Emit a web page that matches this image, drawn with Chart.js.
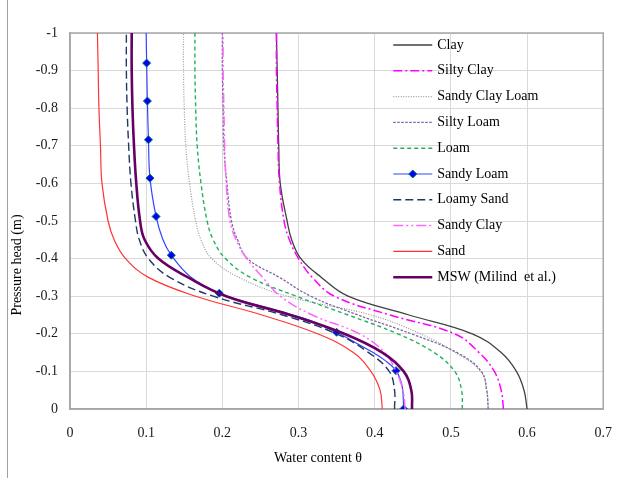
<!DOCTYPE html>
<html>
<head>
<meta charset="utf-8">
<script src="https://cdn.jsdelivr.net/npm/chart.js@4.4.0/dist/chart.umd.min.js"></script>
<style>
  body { margin: 0; background: #fff; }
  canvas { display: block; }
</style>
</head>
<body>
<canvas id="swcc" width="628" height="478"></canvas>
<script>
// pressure head (m) at which curves were read
const heads = [0, -0.05, -0.1, -0.15, -0.2, -0.25, -0.3, -0.35, -0.4, -0.45, -0.5, -0.6, -0.7, -0.8, -0.9, -1];

// water content for each soil, same order as heads
const clay          = [0.600, 0.596, 0.586, 0.566, 0.528, 0.445, 0.365, 0.330, 0.303, 0.291, 0.285, 0.276, 0.274, 0.273, 0.272, 0.271];
const siltyClay     = [0.569, 0.566, 0.557, 0.537, 0.505, 0.420, 0.347, 0.318, 0.300, 0.288, 0.281, 0.275, 0.273, 0.272, 0.271, 0.271];
const sandyClayLoam = [0.549, 0.547, 0.539, 0.506, 0.460, 0.395, 0.285, 0.222, 0.186, 0.172, 0.165, 0.157, 0.152, 0.150, 0.149, 0.149];
const siltyLoam     = [0.549, 0.547, 0.540, 0.508, 0.448, 0.378, 0.316, 0.275, 0.233, 0.220, 0.212, 0.206, 0.202, 0.201, 0.200, 0.200];
const loam          = [0.515, 0.514, 0.505, 0.478, 0.430, 0.365, 0.297, 0.237, 0.204, 0.188, 0.180, 0.172, 0.167, 0.165, 0.164, 0.164];
const loamySand     = [0.426, 0.426, 0.419, 0.392, 0.350, 0.279, 0.188, 0.131, 0.103, 0.091, 0.086, 0.080, 0.077, 0.075, 0.074, 0.074];
const sandyClay     = [0.440, 0.437, 0.428, 0.413, 0.380, 0.318, 0.276, 0.253, 0.232, 0.218, 0.210, 0.205, 0.203, 0.202, 0.201, 0.201];
const sand          = [0.410, 0.407, 0.395, 0.372, 0.325, 0.252, 0.165, 0.103, 0.073, 0.058, 0.050, 0.042, 0.040, 0.038, 0.037, 0.036];
const msw           = [0.449, 0.448, 0.438, 0.410, 0.360, 0.289, 0.205, 0.155, 0.116, 0.098, 0.092, 0.087, 0.084, 0.082, 0.081, 0.081];

// sandy loam has its own points (the diamonds sit on measured heads)
const slHeads  = [0, -0.06, -0.102, -0.13, -0.15, -0.175, -0.204, -0.237, -0.263, -0.308, -0.352, -0.409, -0.45, -0.512, -0.614, -0.716, -0.819, -0.92, -1];
const slTheta  = [0.438, 0.436, 0.428, 0.413, 0.398, 0.376, 0.350, 0.313, 0.270, 0.196, 0.158, 0.133, 0.122, 0.113, 0.105, 0.103, 0.1016, 0.1006, 0.100];
const slMarker = [1, 0, 1, 0, 0, 0, 1, 0, 0, 1, 0, 1, 0, 1, 1, 1, 1, 1, 0];

const xTicks = [0, 0.1, 0.2, 0.3, 0.4, 0.5, 0.6, 0.7];
const FONT = "'Liberation Serif', 'Times New Roman', serif";

const toPts = (ys, xs) => ys.map((h, i) => ({ x: xs[i], y: h }));

function line(label, xs, color, width, dash, ys) {
  return {
    label,
    data: toPts(ys || heads, xs),
    showLine: true,
    borderColor: color,
    backgroundColor: color,
    borderWidth: width,
    borderDash: dash,
    pointRadius: 0,
    tension: 0.4
  };
}

const datasets = [
  line('Clay', clay, '#404040', 1.3, []),
  line('Silty Clay', siltyClay, '#ff00ff', 1.5, [9, 3, 2, 3]),
  line('Sandy Clay Loam', sandyClayLoam, '#9a9a9a', 1.2, [1, 1.5]),
  line('Silty Loam', siltyLoam, '#8064a2', 1.3, [2.5, 1.5]),
  line('Loam', loam, '#22b060', 1.4, [4, 3]),
  line('Sandy Loam', slTheta, '#3344ff', 1.2, [], slHeads),
  line('Loamy Sand', loamySand, '#1f3864', 1.4, [8, 4]),
  line('Sandy Clay', sandyClay, '#ff66ff', 1.5, [10, 3, 2, 3, 2, 3]),
  line('Sand', sand, '#ff3333', 1.2, []),
  line('MSW (Milind  et al.)', msw, '#660066', 2.6, [])
];
// later series drawn on top, as in the original
datasets.forEach((d, i) => { d.order = -i; });
const sl = datasets[5];
sl.pointStyle = 'rectRot';
sl.pointRadius = ctx => slMarker[ctx.dataIndex] ? 4 : 0;
sl.pointBackgroundColor = '#0000ff';
sl.pointBorderColor = '#00706a';
sl.pointBorderWidth = 1;

const overlay = {
  id: 'overlay',
  beforeDatasetsDraw(chart) {
    const { ctx, chartArea: a } = chart;
    ctx.save();
    ctx.strokeStyle = '#a6a6a6';
    ctx.lineWidth = 1.5;
    ctx.strokeRect(a.left, a.top, a.right - a.left, a.bottom - a.top);
    ctx.restore();
  },
  afterDraw(chart) {
    const { ctx, chartArea: a } = chart;
    ctx.save();
    // outer chart border (left edge)
    ctx.strokeStyle = '#a0a0a0';
    ctx.lineWidth = 1;
    ctx.beginPath(); ctx.moveTo(7.5, 0); ctx.lineTo(7.5, 478); ctx.stroke();

    // legend inside plot, top right
    ctx.font = '14px ' + FONT;
    ctx.textBaseline = 'middle';
    ctx.fillStyle = '#000';
    const lx = a.right - 210, ly = a.top + 12, step = 25.8;
    chart.data.datasets.forEach((d, i) => {
      const y = ly + i * step;
      ctx.setLineDash(d.borderDash || []);
      ctx.strokeStyle = d.borderColor;
      ctx.lineWidth = d.borderWidth;
      ctx.beginPath(); ctx.moveTo(lx, y); ctx.lineTo(lx + 39, y); ctx.stroke();
      ctx.setLineDash([]);
      if (d.pointStyle === 'rectRot') {
        ctx.beginPath();
        ctx.moveTo(lx + 19.5, y - 4); ctx.lineTo(lx + 23.5, y);
        ctx.lineTo(lx + 19.5, y + 4); ctx.lineTo(lx + 15.5, y); ctx.closePath();
        ctx.fillStyle = d.pointBackgroundColor; ctx.fill();
        ctx.strokeStyle = d.pointBorderColor; ctx.lineWidth = 1; ctx.stroke();
        ctx.fillStyle = '#000';
      }
      ctx.fillText(d.label, lx + 44, y);
    });

    // axis titles
    ctx.textAlign = 'center';
    ctx.fillText('Water content θ', 318, 458);
    ctx.translate(17, 265);
    ctx.rotate(-Math.PI / 2);
    ctx.fillText('Pressure head (m)', 0, 0);
    ctx.restore();
  }
};

new Chart(document.getElementById('swcc'), {
  type: 'scatter',
  data: { datasets },
  options: {
    responsive: false,
    animation: false,
    layout: { padding: { left: 0, right: 13.5, top: 33, bottom: 0 } },
    plugins: { legend: { display: false }, tooltip: { enabled: false } },
    scales: {
      x: {
        type: 'linear',
        min: 0, max: 0.7,
        afterFit: s => { s.height = 69; },
        afterBuildTicks: s => { s.ticks = xTicks.map(v => ({ value: v })); },
        grid: { color: '#d9d9d9', lineWidth: 1, drawTicks: false },
        border: { color: '#a6a6a6', width: 1.5 },
        ticks: {
          padding: 16,
          color: '#1a1a1a',
          font: { family: FONT, size: 14 },
          callback: v => String(+v.toFixed(1))
        }
      },
      y: {
        type: 'linear',
        min: -1, max: 0,
        reverse: true,
        afterFit: s => { s.width = 70; },
        grid: { color: '#d9d9d9', lineWidth: 1, drawTicks: false },
        border: { color: '#a6a6a6', width: 1.5 },
        ticks: {
          stepSize: 0.1,
          padding: 12,
          color: '#1a1a1a',
          font: { family: FONT, size: 14 },
          callback: v => String(+v.toFixed(1))
        }
      }
    }
  },
  plugins: [overlay]
});
</script>
</body>
</html>
